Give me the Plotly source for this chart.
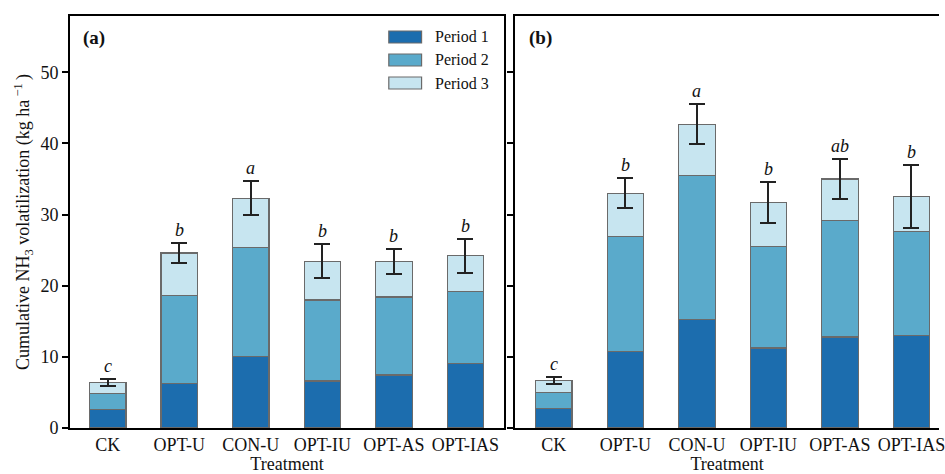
import plotly.graph_objects as go

categories = ["CK", "OPT-U", "CON-U", "OPT-IU", "OPT-AS", "OPT-IAS"]

# Panel (a)
a_p1 = [2.6, 6.2, 10.0, 6.6, 7.45, 9.1]
a_p2 = [2.24, 12.4, 15.4, 11.4, 10.95, 10.1]
a_p3 = [1.56, 6.0, 6.9, 5.45, 5.0, 5.0]
a_err = [0.5, 1.4, 2.4, 2.4, 1.8, 2.4]
a_letters = ["c", "b", "a", "b", "b", "b"]

# Panel (b)
b_p1 = [2.73, 10.8, 15.2, 11.25, 12.8, 13.0]
b_p2 = [2.25, 16.1, 20.3, 14.3, 16.4, 14.56]
b_p3 = [1.69, 6.1, 7.2, 6.15, 5.8, 4.94]
b_err = [0.55, 2.1, 2.8, 2.9, 2.8, 4.45]
b_letters = ["c", "b", "a", "b", "ab", "b"]

periods = ["Period 1", "Period 2", "Period 3"]
colors = ["#1c6dae", "#5aaacb", "#c7e5f0"]
edge = "#6a6a6a"
FONT = "Liberation Serif"

W, H = 945, 474
ML, MR, MT, MB = 70, 0, 16, 46
PW, PH = W - ML - MR, H - MT - MB
YMAX = 57.9

fig = go.Figure()

def add_panel(p1, p2, p3, err, letters, xa, ya):
    for name, vals, col in zip(periods, [p1, p2, p3], colors):
        kw = {}
        if name == "Period 3":
            kw["error_y"] = dict(type="data", array=err, visible=True,
                                 color="#222222", thickness=2, width=8)
        fig.add_trace(go.Bar(x=categories, y=vals, name=name, width=0.51,
                             marker=dict(color=col, line=dict(color=edge, width=1.2)),
                             xaxis=xa, yaxis=ya, showlegend=False, **kw))
    for c, a, b, cc, e, L in zip(categories, p1, p2, p3, err, letters):
        fig.add_annotation(x=c, y=a + b + cc + e, xref=xa, yref=ya, text=f"<i>{L}</i>",
                           showarrow=False, yanchor="bottom", yshift=1,
                           font=dict(family=FONT, size=18, color="#111"))

add_panel(a_p1, a_p2, a_p3, a_err, a_letters, "x", "y")
add_panel(b_p1, b_p2, b_p3, b_err, b_letters, "x2", "y2")

d_a = [0, (507 - ML) / PW]
d_b = [(518.3 - ML) / PW, 1]

axis_common = dict(showline=True, linecolor="black", linewidth=1.6,
                   tickfont=dict(family=FONT, size=18, color="#111"), showgrid=False,
                   zeroline=False)

fig.update_layout(
    width=W, height=H, margin=dict(l=ML, r=MR, t=MT, b=MB),
    barmode="stack", plot_bgcolor="white", paper_bgcolor="white",
    font=dict(family=FONT, color="#111"),
    xaxis=dict(domain=d_a, range=[-0.528, 5.54], mirror=True, ticks="",
               title=dict(text="Treatment", font=dict(family=FONT, size=18), standoff=3),
               **axis_common),
    xaxis2=dict(domain=d_b, range=[-0.54, 5.385], mirror=True, ticks="", anchor="y2",
                title=dict(text="Treatment", font=dict(family=FONT, size=18), standoff=3),
                **axis_common),
    yaxis=dict(range=[0, YMAX], mirror=True, ticks="outside", ticklen=6, tickwidth=1.5,
               tickcolor="black", tickvals=[0, 10, 20, 30, 40, 50],
               title=dict(text="Cumulative NH<sub>3</sub> volatilization (kg ha<sup> \u22121 </sup>)",
                          font=dict(family=FONT, size=18), standoff=6),
               **axis_common),
    yaxis2=dict(range=[0, YMAX], anchor="x2", mirror=False, ticks="outside", ticklen=6,
                tickwidth=1.5, tickcolor="black", tickvals=[0, 10, 20, 30, 40, 50],
                showticklabels=False, **axis_common),
)

# panel labels
def px_x(px):
    return (px - ML) / PW

def px_y(py):
    return (MT + PH - py) / PH

fig.add_annotation(x=px_x(81), y=px_y(38), xref="paper", yref="paper", text="<b>(a)</b>",
                   showarrow=False, xanchor="left", yanchor="middle",
                   font=dict(family=FONT, size=19, color="#111"))
fig.add_annotation(x=px_x(530), y=px_y(38), xref="paper", yref="paper", text="<b>(b)</b>",
                   showarrow=False, xanchor="left", yanchor="middle",
                   font=dict(family=FONT, size=19, color="#111"))

# legend drawn manually
leg_y = [37, 60, 83]
for name, col, cy in zip(periods, colors, leg_y):
    fig.add_shape(type="rect", xref="paper", yref="paper",
                  x0=px_x(391), x1=px_x(424), y0=px_y(cy + 6), y1=px_y(cy - 6),
                  fillcolor=col, line=dict(color=edge, width=1.2))
    fig.add_annotation(x=px_x(436), y=px_y(cy), xref="paper", yref="paper", text=name,
                       showarrow=False, xanchor="left", yanchor="middle",
                       font=dict(family=FONT, size=16, color="#111"))

fig.write_html("out.html")
